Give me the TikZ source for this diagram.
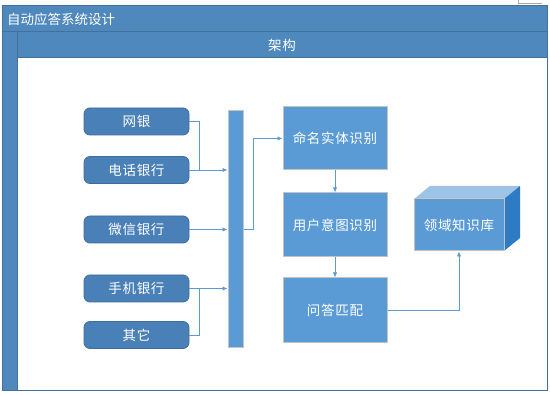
\documentclass[tikz,border=0pt]{standalone}
\usepackage{fontspec}
\newfontfamily\cjk[LetterSpace=5]{Noto Sans CJK SC}
\newfontfamily\cjkt{Noto Sans CJK SC}
\usetikzlibrary{arrows.meta,calc}
\definecolor{hdr}{HTML}{4F88BD}
\definecolor{hdrline}{HTML}{41719C}
\definecolor{lbox}{HTML}{4A80B8}
\definecolor{lline}{HTML}{3E6D9C}
\definecolor{rbox}{HTML}{5B9BD5}
\definecolor{rline}{HTML}{C3C3C3}
\definecolor{conn}{HTML}{5B9BD5}
\definecolor{cubetop}{HTML}{9DC3E6}
\definecolor{cubeside}{HTML}{2E7BC4}
\tikzset{
  x=1pt,y=-1pt,
  every node/.style={font=\cjk\fontsize{13.5}{16}\selectfont, text=white, inner sep=0pt},
  srcbox/.style={draw=lline, fill=lbox, line width=0.8pt, rounded corners=6pt, minimum width=105pt, minimum height=27pt},
  stepbox/.style={draw=rline, fill=rbox, line width=1pt, minimum width=104pt},
  busbar/.style={draw=rline, fill=rbox, line width=1pt},
  link/.style={draw=conn, line width=0.9pt},
  arr/.style={link, -{Latex[length=5pt,width=4.5pt]}},
}
\begin{document}
\begin{tikzpicture}
\useasboundingbox (0,0) rectangle (550,395);
\fill[white] (0,0) rectangle (550,395);
% frame
\fill[hdr] (2,6) rectangle (547,58);
\fill[hdr] (2,6) rectangle (17,391);
\draw[hdrline, line width=1pt] (2,6) rectangle (547,391);
\draw[hdrline, line width=1pt] (2,32) -- (547,32);
\draw[hdrline, line width=1pt] (17,58) -- (547,58);
\draw[hdrline, line width=1pt] (17,32) -- (17,391);
\draw[gray!70, line width=0.8pt] (518,0) -- (518,3) -- (542,3);
\node[anchor=west, font=\cjkt\fontsize{13.5}{16}\selectfont] (title) at (7,19) {自动应答系统设计};
\node (arch) at (282,45) {架构};
% source boxes
\node[srcbox] (wy) at (136.5,121.5) {网银};
\node[srcbox] (dh) at (136.5,170) {电话银行};
\node[srcbox] (wx) at (136.5,229.5) {微信银行};
\node[srcbox] (sj) at (136.5,288.5) {手机银行};
\node[srcbox] (qt) at (136.5,335) {其它};
% bus bar
\node[busbar, minimum width=15pt, minimum height=237pt] (bar) at (235.5,229.5) {};
% step boxes
\node[stepbox, minimum height=63pt] (mm) at (335,138.5) {命名实体识别};
\node[stepbox, minimum height=64pt] (yh) at (335,225) {用户意图识别};
\node[stepbox, minimum height=65pt] (wd) at (335,310.5) {问答匹配};
% cube
\fill[cubetop] (414,199) -- (430,186) -- (520,186) -- (504,199) -- cycle;
\fill[cubeside] (504,199) -- (520,186) -- (520,238) -- (504,251) -- cycle;
\node[draw=rline, fill=rbox, line width=1pt, minimum width=90pt, minimum height=52pt] (kb) at (459,225) {领域知识库};
% connectors
\coordinate (j1) at (199,170);
\coordinate (j2) at (199,288.5);
\coordinate (j3) at (253,229.5);
\draw[link] (wy.east) -| (j1);
\draw[arr] (dh.east) -- (bar.west |- dh.east);
\draw[arr] (wx.east) -- (bar.west |- wx.east);
\draw[link] (qt.east) -| (j2);
\draw[arr] (sj.east) -- (bar.west |- sj.east);
\draw[arr] (bar.east |- j3) -- (j3) |- (mm.west);
\draw[arr] (mm.south) -- (yh.north);
\draw[arr] (yh.south) -- (wd.north);
\draw[arr] (wd.east) -| (kb.south);
\end{tikzpicture}
\end{document}
